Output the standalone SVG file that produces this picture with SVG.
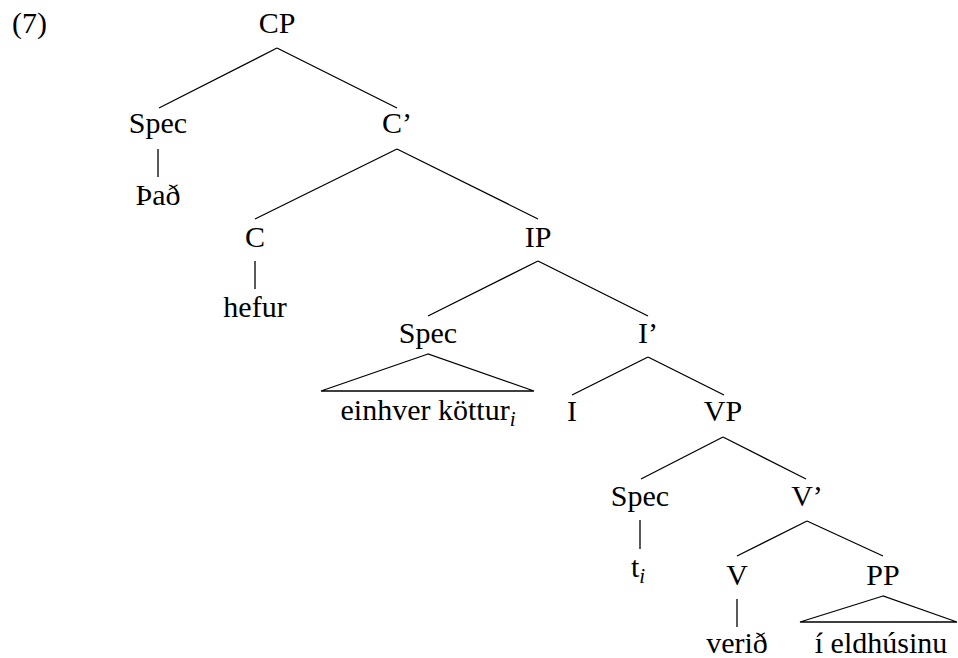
<svg xmlns="http://www.w3.org/2000/svg" width="958" height="658" viewBox="0 0 958 658">
  <rect width="958" height="658" fill="#fff"/>
  <text x="12" y="33" font-family="Liberation Serif" font-size="30">(7)</text>
  <g id="edges" stroke="#000" stroke-width="1.3" fill="none">
    <line x1="277" y1="48" x2="159" y2="108"/>
    <line x1="277" y1="48" x2="397" y2="108"/>
    <line x1="158" y1="149" x2="158" y2="177"/>
    <line x1="397" y1="149" x2="255" y2="219"/>
    <line x1="397" y1="149" x2="538" y2="219"/>
    <line x1="255" y1="261" x2="255" y2="289"/>
    <line x1="538" y1="261" x2="428" y2="316"/>
    <line x1="538" y1="261" x2="648" y2="316"/>
    <polygon points="428,354 321,391 534,391"/>
    <line x1="648" y1="357" x2="572" y2="395"/>
    <line x1="648" y1="357" x2="724" y2="395"/>
    <line x1="723" y1="437" x2="641" y2="479"/>
    <line x1="723" y1="437" x2="806" y2="479"/>
    <line x1="640" y1="520" x2="640" y2="549"/>
    <line x1="807" y1="521" x2="737" y2="556"/>
    <line x1="807" y1="521" x2="883" y2="556"/>
    <line x1="737" y1="599" x2="737" y2="627"/>
    <polygon points="883,596 800,622 957,622"/>
  </g>
  <g id="CP"><text x="277" y="33" font-family="Liberation Serif" font-size="30" text-anchor="middle">CP</text></g>
  <g id="SpecC"><text x="158" y="133" font-family="Liberation Serif" font-size="30" text-anchor="middle">Spec</text></g>
  <g id="Cbar"><text x="397" y="133" font-family="Liberation Serif" font-size="30" text-anchor="middle">C&#8217;</text></g>
  <g id="Thad"><text x="158" y="205" font-family="Liberation Serif" font-size="30" text-anchor="middle">&#222;a&#240;</text></g>
  <g id="C"><text x="255" y="247" font-family="Liberation Serif" font-size="30" text-anchor="middle">C</text></g>
  <g id="IP"><text x="538" y="247" font-family="Liberation Serif" font-size="30" text-anchor="middle">IP</text></g>
  <g id="hefur"><text x="255" y="317" font-family="Liberation Serif" font-size="30" text-anchor="middle">hefur</text></g>
  <g id="SpecI"><text x="428" y="343" font-family="Liberation Serif" font-size="30" text-anchor="middle">Spec</text></g>
  <g id="Ibar"><text x="648" y="343" font-family="Liberation Serif" font-size="30" text-anchor="middle">I&#8217;</text></g>
  <g id="einhver"><text x="428" y="420" font-family="Liberation Serif" font-size="30" text-anchor="middle">einhver k&#246;ttur<tspan font-style="italic" font-size="21" dy="6">i</tspan></text></g>
  <g id="I"><text x="572" y="421" font-family="Liberation Serif" font-size="30" text-anchor="middle">I</text></g>
  <g id="VP"><text x="723" y="421" font-family="Liberation Serif" font-size="30" text-anchor="middle">VP</text></g>
  <g id="SpecV"><text x="640" y="506" font-family="Liberation Serif" font-size="30" text-anchor="middle">Spec</text></g>
  <g id="Vbar"><text x="807" y="506" font-family="Liberation Serif" font-size="30" text-anchor="middle">V&#8217;</text></g>
  <g id="trace"><text x="638" y="577" font-family="Liberation Serif" font-size="30" text-anchor="middle">t<tspan font-style="italic" font-size="21" dy="6">i</tspan></text></g>
  <g id="V"><text x="737" y="585" font-family="Liberation Serif" font-size="30" text-anchor="middle">V</text></g>
  <g id="PP"><text x="883" y="585" font-family="Liberation Serif" font-size="30" text-anchor="middle">PP</text></g>
  <g id="verid"><text x="737" y="653" font-family="Liberation Serif" font-size="30" text-anchor="middle">veri&#240;</text></g>
  <g id="eldhusinu"><text x="881" y="653" font-family="Liberation Serif" font-size="30" text-anchor="middle">&#237; eldh&#250;sinu</text></g>
</svg>
